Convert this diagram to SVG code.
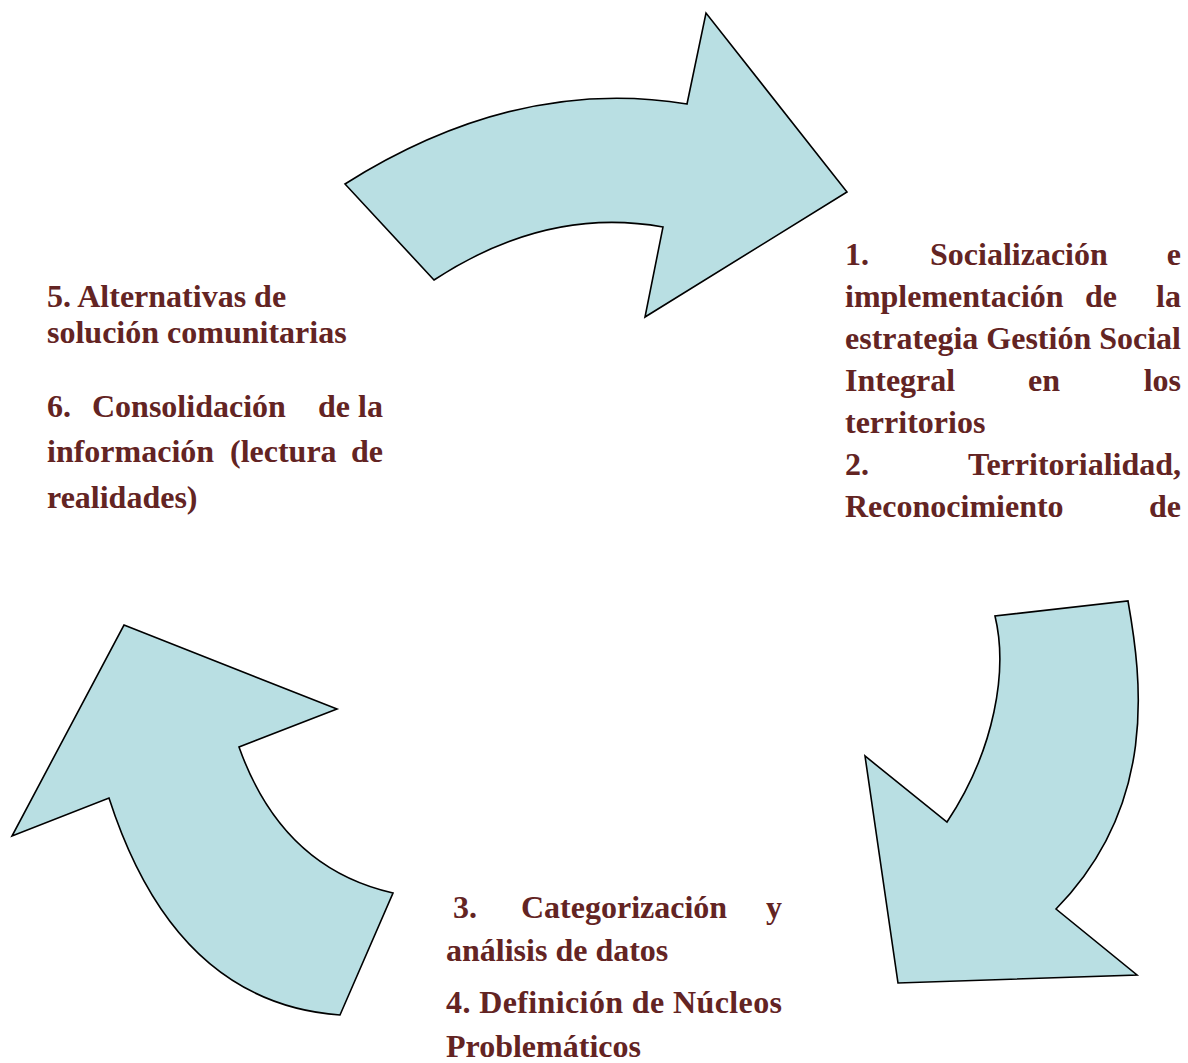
<svg xmlns="http://www.w3.org/2000/svg" width="1188" height="1063" viewBox="0 0 1188 1063">
<style>
.arrow{fill:#b9dfe3;stroke:#000;stroke-width:1.6;stroke-linejoin:miter}
.t{font-family:"Liberation Serif","Times New Roman",serif;font-weight:bold;font-size:32px;fill:#632423}
.e{text-anchor:end}
</style>
<rect width="1188" height="1063" fill="#fff"/>
<g id="connectors">
<path id="arrow-top" class="arrow" d="M345,184 Q516,76 687,104 L706,13 L847,192 L645,317 L663,227 Q547,206 434,280 Z"/>
<path id="arrow-right" class="arrow" d="M1128,601 C1142,680 1158,805 1056,909 L1137,975 L898,983 L865,756 L947,822 C995,750 1008,670 995,616 Z"/>
<path id="arrow-left" class="arrow" d="M124,625 L337,709 L239,747 Q282,868 393,893 L340,1015 Q175,1003 109,798 L12,836 Z"/>
</g>
<g id="node-1-2">
<text class="t" x="845" y="265">1.</text>
<text class="t" x="930" y="265">Socialización</text>
<text class="t e" x="1181" y="265">e</text>
<text class="t" x="845" y="307">implementación</text>
<text class="t" x="1085" y="307">de</text>
<text class="t e" x="1181" y="307">la</text>
<text class="t" x="845" y="349" textLength="336" lengthAdjust="spacing">estrategia Gestión Social</text>
<text class="t" x="845" y="391">Integral</text>
<text class="t" x="1028" y="391">en</text>
<text class="t e" x="1181" y="391">los</text>
<text class="t" x="845" y="433">territorios</text>
<text class="t" x="845" y="475">2.</text>
<text class="t e" x="1181" y="475">Territorialidad,</text>
<text class="t" x="845" y="517">Reconocimiento</text>
<text class="t e" x="1181" y="517">de</text>
</g>
<g id="node-3-4">
<text class="t" x="453" y="918">3.</text>
<text class="t" x="521" y="918">Categorización</text>
<text class="t e" x="782" y="918">y</text>
<text class="t" x="446" y="961">análisis de datos</text>
<text class="t" x="446" y="1013" textLength="336" lengthAdjust="spacing">4. Definición de Núcleos</text>
<text class="t" x="446" y="1057">Problemáticos</text>
</g>
<g id="node-5-6">
<text class="t" x="47" y="307">5. Alternativas de</text>
<text class="t" x="47" y="343">solución comunitarias</text>
<text class="t" x="47" y="417">6.</text>
<text class="t" x="92" y="417">Consolidación</text>
<text class="t" x="318" y="417">de</text>
<text class="t e" x="383" y="417">la</text>
<text class="t" x="47" y="462">información</text>
<text class="t" x="230" y="462">(lectura</text>
<text class="t e" x="383" y="462">de</text>
<text class="t" x="47" y="508">realidades)</text>
</g>
</svg>
